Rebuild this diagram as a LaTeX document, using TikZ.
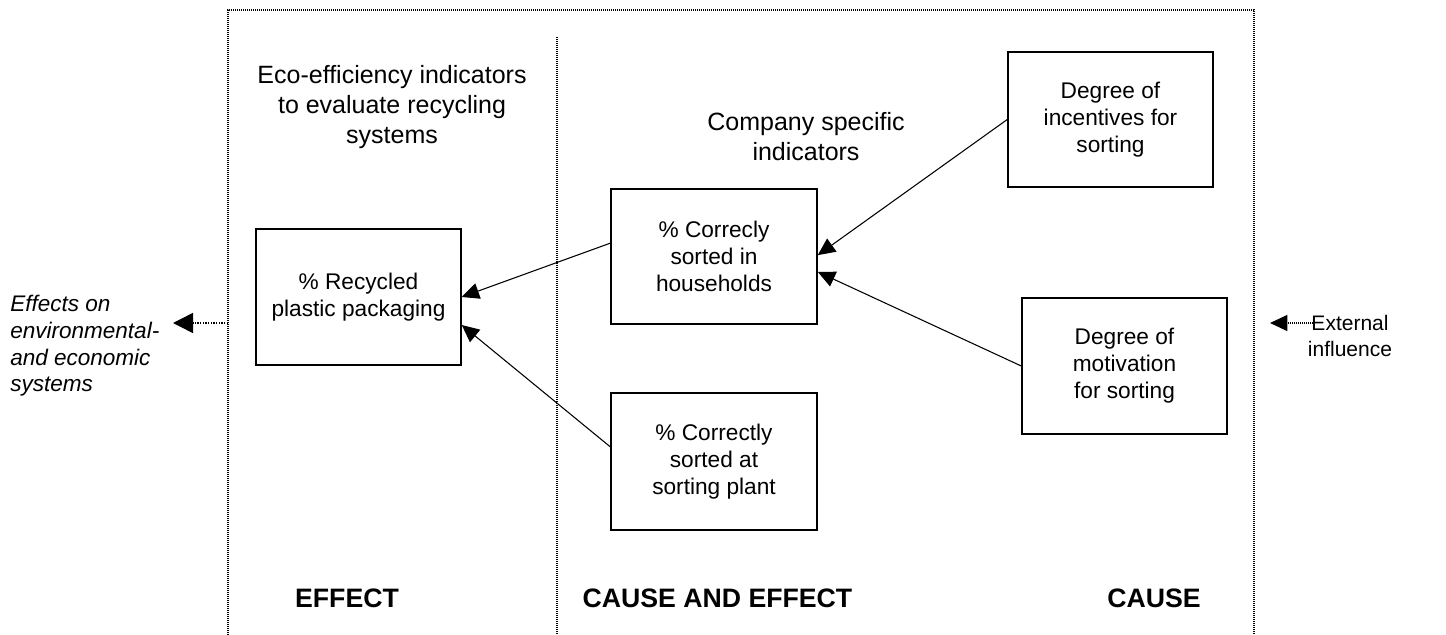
\documentclass[tikz,border=0pt]{standalone}
\usepackage{fontspec}
\setmainfont{Liberation Sans}
\usetikzlibrary{arrows.meta}
\begin{document}
\begin{tikzpicture}[x=0.75pt,y=-0.75pt,
  frame/.style={line width=0.8pt, dash pattern=on 0.75pt off 0.75pt, black},
  ind/.style={draw, line width=1.1pt, align=center, inner sep=0pt,
    font=\fontsize{17}{20.25}\selectfont},
  heading/.style={align=center, inner sep=0pt, font=\fontsize{18.75}{22.5}\selectfont},
  zone/.style={inner sep=0pt, font=\fontsize{20}{24}\selectfont\bfseries},
  link/.style={line width=0.8pt, -{Triangle[length=13pt,width=12pt]}},
  ext/.style={line width=1.1pt, dash pattern=on 1pt off 1pt, -{Triangle[length=15pt,width=15pt]}}
]
\useasboundingbox (0,0) rectangle (1446,635);
% frame
\draw[frame] (228,635) -- (228,10) -- (1254,10) -- (1254,635);
\draw[frame] (557,37) -- (557,635);
% headings
\node[heading] (h1) at (392,107) {Eco-efficiency indicators\\to evaluate recycling\\systems};
\node[heading] (h2) at (806,137) {Company specific\\indicators};
% indicator boxes
\node[ind, minimum width=153.75pt, minimum height=102pt] (rec) at (358.5,297) {\% Recycled\\plastic packaging};
\node[ind, minimum width=154.5pt, minimum height=101.25pt] (hh) at (714,256.5) {\% Correcly\\sorted in\\households};
\node[ind, minimum width=154.5pt, minimum height=102.75pt] (sp) at (714,461.5) {\% Correctly\\sorted at\\sorting plant};
\node[ind, minimum width=153.75pt, minimum height=101.25pt] (inc) at (1110.5,119.5) {Degree of\\incentives for\\sorting};
\node[ind, minimum width=153.75pt, minimum height=102pt] (mot) at (1124.5,366) {Degree of\\motivation\\for sorting};
% links
\draw[link] ([yshift=10pt]hh.west) -- (rec.east);
\draw[link] ([yshift=11pt]sp.west) -- ([yshift=-21pt]rec.east);
\draw[link] (inc.west) -- ([yshift=1pt]hh.east);
\draw[link] (mot.west) -- ([yshift=-11.5pt]hh.east);
% outside texts
\node[anchor=west, align=left, inner sep=0pt, font=\fontsize{16.9}{20}\selectfont\itshape] (eff) at (10,346)
  {Effects on\\environmental-\\and economic\\systems};
\coordinate (effstart) at (228,323);
\coordinate (efftip) at (173,323);
\draw[ext] (effstart) -- (efftip);
\node[align=center, inner sep=0pt, font=\fontsize{15.75}{19}\selectfont] (exin) at (1350,336) {External\\influence};
\coordinate (exstart) at (1313,323);
\coordinate (extip) at (1270,323);
\draw[line width=0.8pt, dash pattern=on 0.75pt off 0.75pt, -{Triangle[length=13pt,width=12pt]}] (exstart) -- (extip);
% zone labels
\node[zone] (z1) at (347,598) {EFFECT};
\node[zone] (z2) at (717.5,598) {CAUSE AND EFFECT};
\node[zone] (z3) at (1154,598) {CAUSE};
\end{tikzpicture}
\end{document}
